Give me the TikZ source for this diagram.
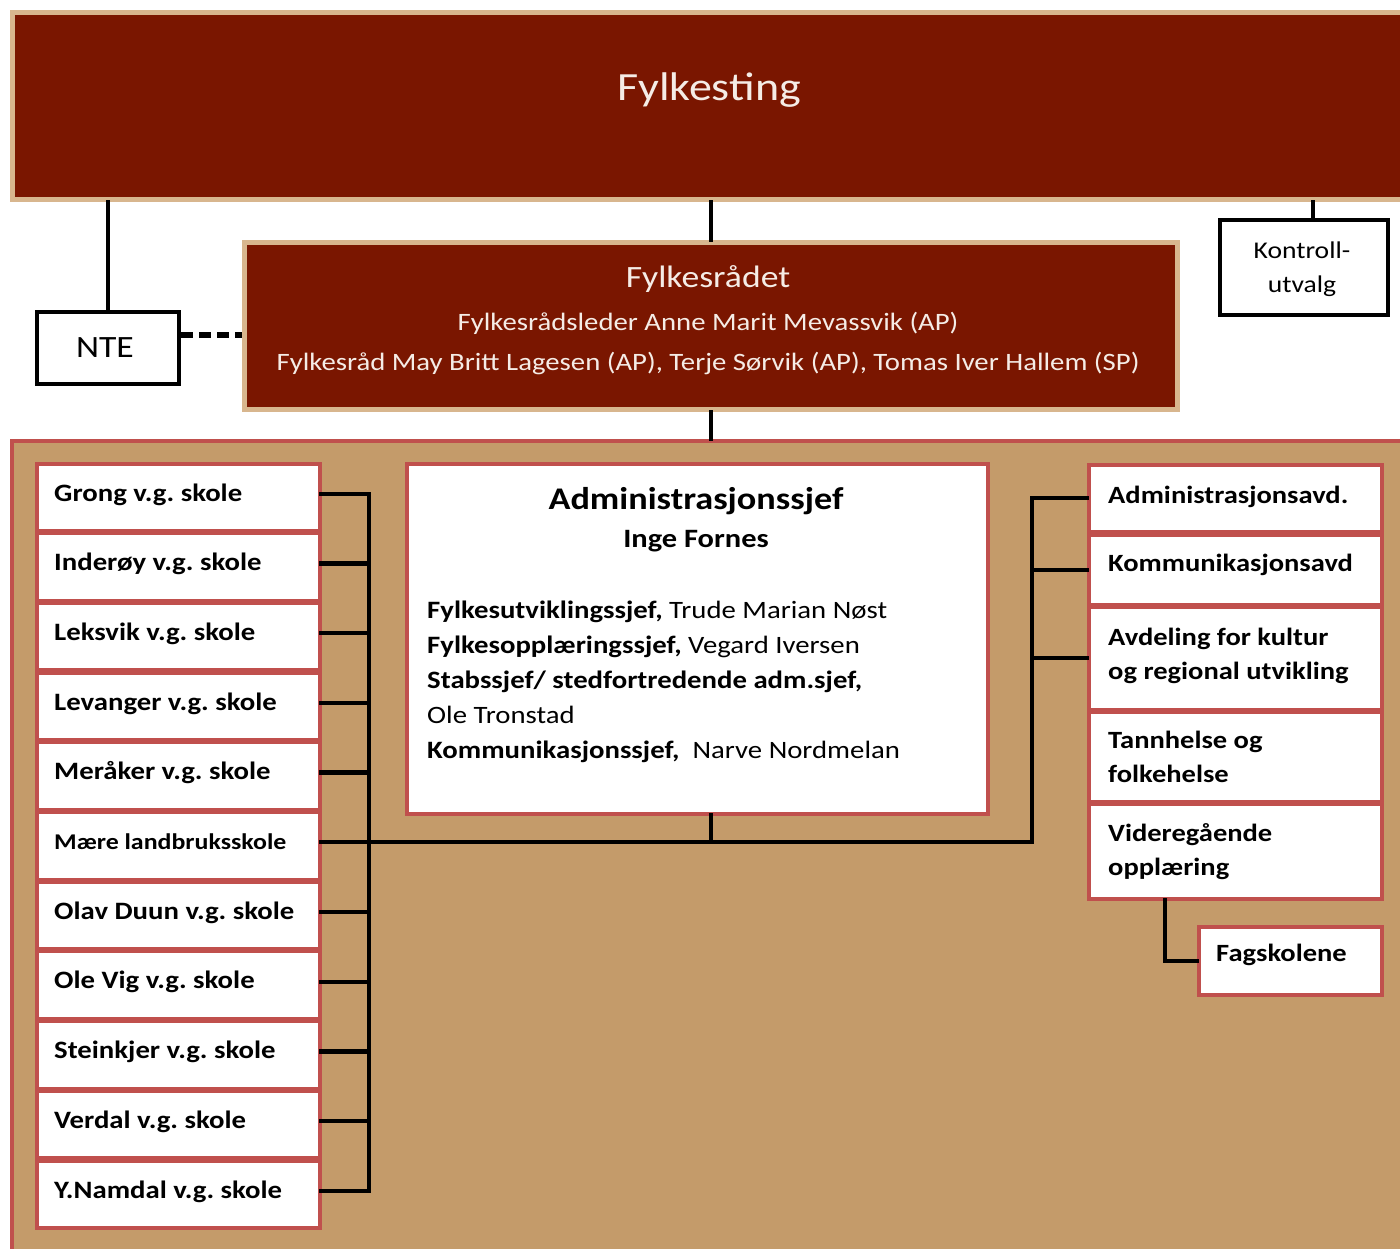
\documentclass[tikz,border=0pt]{standalone}
\usepackage{fontspec}
\setmainfont{Carlito}[FakeStretch=1.15]
\usetikzlibrary{calc}
\definecolor{fdark}{RGB}{122,22,0}
\definecolor{fbeige}{RGB}{216,182,142}
\definecolor{fpanel}{RGB}{196,155,106}
\definecolor{fred}{RGB}{192,80,77}
\definecolor{flight}{RGB}{245,236,230}
\newcommand\fsz[1]{\fontsize{#1}{#1}\selectfont}
\frenchspacing
\begin{document}
\begin{tikzpicture}[x=1pt,y=-1pt,
 darkbox/.style={draw=fbeige, line width=5pt, fill=fdark, inner sep=0pt, anchor=north west},
 blackbox/.style={draw=black, line width=4pt, fill=white, inner sep=0pt, align=center, anchor=north west},
 redbox/.style={draw=fred, line width=3.5pt, fill=white, inner sep=0pt, anchor=north west},
 conn/.style={draw=black, line width=4.3pt, line cap=rect},
 lt/.style={text=flight, inner sep=0pt, anchor=base},
 bt/.style={text=black, inner sep=0pt, anchor=base west},
 ct/.style={text=black, inner sep=0pt, anchor=base},
]
\useasboundingbox (0,0) rectangle (1400,1248);
\fill[white] (0,0) rectangle (1400,1248);

% top level
\node[darkbox, minimum width=1400pt, minimum height=187pt] (fting) at (10,10) {};
\node[lt, font=\fsz{40}] (ftingt) at (709,100) {Fylkesting};

\node[darkbox, minimum width=933pt, minimum height=167pt] (frad) at (242,240) {};
\node[lt, font=\fsz{31}] (fradt1) at (708,287) {Fylkesrådet};
\node[lt, font=\fsz{25}] (fradt2) at (708,330) {Fylkesrådsleder Anne Marit Mevassvik (AP)};
\node[lt, font=\fsz{25}] (fradt3) at (708,370) {Fylkesråd May Britt Lagesen (AP), Terje Sørvik (AP), Tomas Iver Hallem (SP)};

\node[blackbox, minimum width=142pt, minimum height=72pt, font=\fsz{31}] (nte) at (35,310) {NTE\hspace*{6pt}};
\node[blackbox, minimum width=168pt, minimum height=95pt] (kon) at (1218,218) {};
\node[ct, font=\fsz{24}] (kont1) at (1302,258) {Kontroll-};
\node[ct, font=\fsz{24}] (kont2) at (1302,292) {utvalg};

\draw[conn] (frad.north) -- (frad.north |- fting.south);
\draw[conn, line width=3.5pt] (nte.north) -- (nte.north |- fting.south);
\coordinate (kt) at ([xshift=9pt]kon.north);
\draw[conn, line width=3.5pt] (kt) -- (kt |- fting.south);
\coordinate (nd) at ([yshift=13pt]nte.east);
\draw[black, line width=6pt, dash pattern=on 12pt off 6pt] (nd) -- (nd -| frad.west);

% panel
\node[draw=fred, line width=4pt, fill=fpanel, anchor=north west, minimum width=1420pt, minimum height=840pt, inner sep=0pt] (panel) at (10,439) {};
\draw[conn] (frad.south) -- (frad.south |- panel.north);

\coordinate (lbus) at (369,0);
\coordinate (rbus) at (1032,0);

% schools
\foreach \txt/\fs [count=\i from 0] in {Grong v.g. skole/25, Inderøy v.g. skole/25, Leksvik v.g. skole/25, Levanger v.g. skole/25, Meråker v.g. skole/25, Mære landbruksskole/22.5, Olav Duun v.g. skole/25, Ole Vig v.g. skole/25, Steinkjer v.g. skole/25, Verdal v.g. skole/25, Y.Namdal v.g. skole/25} {
  \pgfmathsetmacro\ytop{462+\i*69.7}
  \node[redbox, minimum width=283pt, minimum height=67pt] (s\i) at (35,\ytop) {};
  \node[bt, font=\bfseries\fsz{\fs}] (st\i) at (54,\ytop+39) {\txt};
  \coordinate (b\i) at ([yshift=3.5pt]s\i.east);
  \draw[conn] (b\i) -- (b\i -| lbus);
}
\draw[conn] (b0 -| lbus) -- (b10 -| lbus);

% administrasjonssjef
\node[redbox, minimum width=581pt, minimum height=350pt] (adm) at (405,462) {};
\node[ct, font=\bfseries\fsz{31.5}] (admt) at (696,509) {Administrasjonssjef};
\node[ct, font=\bfseries\fsz{26.5}] (admn) at (696,547) {Inge Fornes};
\node[bt, font=\fsz{25}] (a1) at (427,618) {\textbf{Fylkesutviklingssjef,} Trude Marian Nøst};
\node[bt, font=\fsz{25}] (a2) at (427,653) {\textbf{Fylkesopplæringssjef,} Vegard Iversen};
\node[bt, font=\fsz{25}] (a3) at (427,688) {\textbf{Stabssjef/ stedfortredende adm.sjef,}};
\node[bt, font=\fsz{25}] (a4) at (427,723) {Ole Tronstad};
\node[bt, font=\fsz{25}] (a5) at (427,758) {\textbf{Kommunikasjonssjef,}\ \ Narve Nordmelan};

% right side
\node[redbox, minimum width=293pt, minimum height=67pt] (r0) at (1087,463) {};
\node[redbox, minimum width=293pt, minimum height=70pt] (r1) at (1087,533) {};
\node[redbox, minimum width=293pt, minimum height=103pt] (r2) at (1087,605) {};
\node[redbox, minimum width=293pt, minimum height=90pt] (r3) at (1087,710) {};
\node[redbox, minimum width=293pt, minimum height=95pt] (r4) at (1087,802) {};
\node[redbox, minimum width=183pt, minimum height=68pt] (fag) at (1197,925) {};
\node[bt, font=\bfseries\fsz{24.8}] (r0t) at (1108,503) {Administrasjonsavd.};
\node[bt, font=\bfseries\fsz{24.8}] (r1t) at (1108,571) {Kommunikasjonsavd};
\node[bt, font=\bfseries\fsz{24.8}] (r2t1) at (1108,645) {Avdeling for kultur};
\node[bt, font=\bfseries\fsz{24.8}] (r2t2) at (1108,679) {og regional utvikling};
\node[bt, font=\bfseries\fsz{24.8}] (r3t1) at (1108,748) {Tannhelse og};
\node[bt, font=\bfseries\fsz{24.8}] (r3t2) at (1108,782) {folkehelse};
\node[bt, font=\bfseries\fsz{24.8}] (r4t1) at (1108,841) {Videregående};
\node[bt, font=\bfseries\fsz{24.8}] (r4t2) at (1108,875) {opplæring};
\node[bt, font=\bfseries\fsz{24.8}] (fagt) at (1216,961) {Fagskolene};

% connectors lower
\draw[conn] (b5) -- (b5 -| rbus);
\coordinate (ad) at ([xshift=13.5pt]adm.south);
\draw[conn] (ad) -- (ad |- b5);
\draw[conn] (r0.west -| rbus) -- (b5 -| rbus);
\foreach \r in {r0,r1,r2} { \draw[conn] (\r.west) -- (\r.west -| rbus); }
\coordinate (vd) at ([xshift=78pt]r4.south west);
\draw[conn] (vd) |- (fag.west);
\end{tikzpicture}
\end{document}
